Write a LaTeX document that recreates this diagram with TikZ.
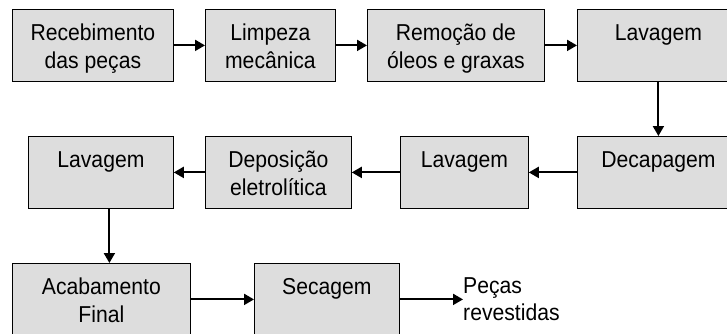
\documentclass[tikz,border=0pt]{standalone}
\usepackage{fontspec}
\setmainfont{Liberation Sans}[FakeStretch=0.92]
\usetikzlibrary{arrows.meta}
\definecolor{cinzabox}{HTML}{DDDDDD}
\newcommand{\txt}[1]{\begin{tabular}[t]{@{}c@{}}#1\end{tabular}}
\tikzset{
	etapa/.style={draw=black, line width=0.8pt, fill=cinzabox, anchor=north west,
		minimum height=72pt, inner sep=0pt, text height=31pt, text depth=41pt,
		font=\fontsize{23}{28}\selectfont},
	seta/.style={line width=2pt, -{Triangle[length=10pt,width=11pt]}}
}
\begin{document}
\begin{tikzpicture}[x=1pt, y=-1pt]
					% area
					\useasboundingbox (0,0) rectangle (727,334);
					\clip (0,0) rectangle (727,334);
					
					% linha 1
					\node[etapa, minimum width=161pt] (rec) at (12,9) {\txt{Recebimento\\das peças}};
					\node[etapa, minimum width=130pt] (limp) at (205,9) {\txt{Limpeza\\mecânica}};
					\node[etapa, minimum width=177pt] (rem) at (367,9) {\txt{Remoção de\\óleos e graxas}};
					\node[etapa, minimum width=162pt] (lavA) at (577,9) {\txt{Lavagem}};
					
					% linha 2
					\node[etapa, minimum width=162pt] (decap) at (577,136) {\txt{Decapagem}};
					\node[etapa, minimum width=128pt] (lavB) at (400,136) {\txt{Lavagem}};
					\node[etapa, minimum width=146pt] (dep) at (205,136) {\txt{Deposição\\eletrolítica}};
					\node[etapa, minimum width=145pt] (lavC) at (28,136) {\txt{Lavagem}};
					
					% linha 3
					\node[etapa, minimum width=178pt] (acab) at (12,263) {\txt{Acabamento\\Final}};
					\node[etapa, minimum width=145pt] (sec) at (254,263) {\txt{Secagem}};
					\node[anchor=west, inner sep=0pt, align=left, font=\fontsize{23}{27}\selectfont] (saida) at (463,299) {Peças\\revestidas};
					
					% setas
					\draw[seta] (rec) -- (limp);
					\draw[seta] (limp) -- (rem);
					\draw[seta] (rem) -- (lavA);
					\draw[seta] (lavA) -- (decap);
					\draw[seta] (decap) -- (lavB);
					\draw[seta] (lavB) -- (dep);
					\draw[seta] (dep) -- (lavC);
					\draw[seta] ([xshift=8.5pt]lavC.south) -- ([xshift=8.5pt]lavC.south |- acab.north);
					\draw[seta] (acab.east |- sec.west) -- (sec.west);
					\draw[seta] (sec.east) -- (sec.east -| saida.west);
\end{tikzpicture}
\end{document}
